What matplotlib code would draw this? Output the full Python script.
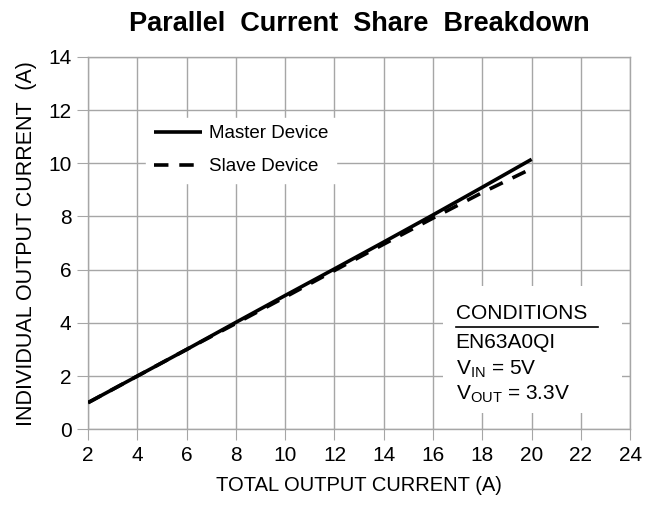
import matplotlib
matplotlib.use("Agg")
import matplotlib.pyplot as plt
from matplotlib.patches import Rectangle
from matplotlib.lines import Line2D

plt.rcParams['font.family'] = ['Liberation Sans', 'DejaVu Sans']
plt.rcParams['mathtext.fontset'] = 'custom'
plt.rcParams['mathtext.rm'] = 'Liberation Sans'
plt.rcParams['mathtext.it'] = 'Liberation Sans'

total = [2, 4, 6, 8, 10, 12, 14, 16, 18, 20]
master = [1.0, 2.0, 3.0, 4.02, 5.03, 6.03, 7.04, 8.06, 9.1, 10.15]
slave = [1.0, 2.0, 3.0, 3.98, 4.97, 5.97, 6.96, 7.94, 8.9, 9.8]

xticks = list(range(2, 25, 2))
yticks = list(range(0, 15, 2))
gray = '#a6a6a6'

fig = plt.figure(figsize=(6.62, 5.08), dpi=100)
ax = fig.add_axes([0.133, 0.155, 0.819, 0.733])

ax.plot(total, master, color='black', lw=2.6, solid_capstyle='butt', label='Master Device', zorder=3)
ax.plot(total, slave, color='black', lw=2.6, dashes=(4, 3), label='Slave Device', zorder=3)

ax.set_xlim(2, 24)
ax.set_ylim(0, 14)
ax.set_xticks(xticks)
ax.set_yticks(yticks)
ax.grid(True, color=gray, lw=1)
ax.set_axisbelow(True)
for s in ax.spines.values():
    s.set_color(gray)
    s.set_linewidth(1)
ax.tick_params(axis='both', direction='out', length=8, color=gray, labelsize=15, pad=4)

ax.set_xlabel('TOTAL OUTPUT CURRENT (A)', fontsize=14.5, labelpad=8)
ax.set_ylabel('INDIVIDUAL OUTPUT CURRENT  (A)', fontsize=15.5, labelpad=8)
ax.set_title('Parallel  Current  Share  Breakdown', fontsize=19.5, fontweight='bold', pad=19)

leg = ax.legend(loc='upper left', bbox_to_anchor=(0.09, 0.862), frameon=True, fontsize=13.5,
                handlelength=2.6, handletextpad=0.35, labelspacing=0.85, borderpad=0.4)
leg.get_frame().set_edgecolor('white')
leg.get_frame().set_facecolor('white')
leg.get_frame().set_alpha(1)
leg.get_frame().set_boxstyle('square', pad=0)

# conditions box
ax.add_patch(Rectangle((0.655, 0.045), 0.33, 0.34, transform=ax.transAxes,
                       facecolor='white', edgecolor='none', zorder=2))
tx = 0.678
ax.text(tx, 0.31, 'CONDITIONS', transform=ax.transAxes, fontsize=15, va='center', zorder=4)
ax.add_line(Line2D([tx, 0.94], [0.274, 0.274], transform=ax.transAxes, color='black', lw=1.2, zorder=4))
ax.text(tx, 0.232, 'EN63A0QI', transform=ax.transAxes, fontsize=15, va='center', zorder=4)
ax.text(tx, 0.162, r'V$_{\mathrm{IN}}$ = 5V', transform=ax.transAxes, fontsize=15, va='center', zorder=4)
ax.text(tx, 0.095, r'V$_{\mathrm{OUT}}$ = 3.3V', transform=ax.transAxes, fontsize=15, va='center', zorder=4)

fig.savefig('out.png', dpi=100)
